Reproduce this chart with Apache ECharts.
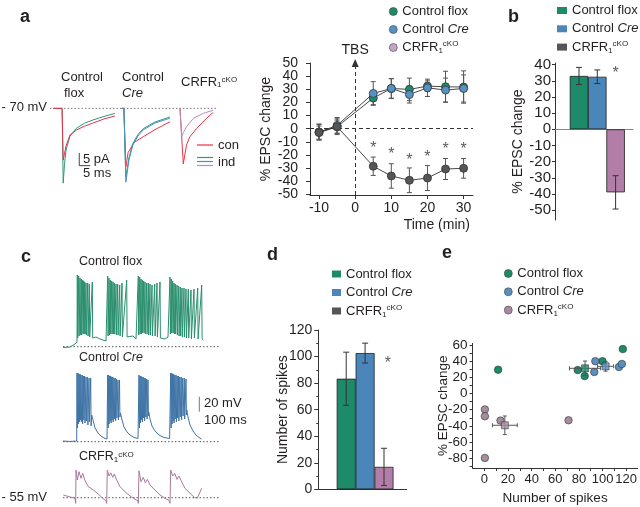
<!DOCTYPE html>
<html><head><meta charset="utf-8">
<script src="https://cdn.jsdelivr.net/npm/echarts@6/dist/echarts.min.js"></script>
<style>html,body{margin:0;padding:0;background:#fff}#chart{width:640px;height:507px}</style>
</head><body><div id="chart"></div>
<script>
// ---------------- DATA ----------------
const groups = ['Control flox', 'Control Cre', 'CRFR1 cKO'];

// Panel a: example EPSC traces [ms, pA]
const aSweepMs = [0, 75.9];
const aFloxCon = [[1.5,0],[5.5,0],[6.0,-20.4],[7.3,-14.8],[9.1,-10.5],[12.1,-8.5],[15.8,-7.0],[19.5,-5.8],[24.5,-4.2],[29.5,-3.0]];
const aFloxInd = [[1.5,0],[5.5,0],[6.0,-29.5],[6.6,-22],[7.3,-16.4],[9.1,-10.9],[12.1,-7.8],[15.8,-5.8],[19.5,-4.6],[24.5,-3.2],[29.5,-2.0]];
const aCreCon = [[32.6,0],[33.6,0],[34.5,-23.0],[35.5,-17.5],[38.2,-13.5],[42.4,-11.2],[47.7,-8.4],[54.5,-5.3]];
const aCreIndG = [[32.6,0],[33.6,0],[34.5,-27],[35.9,-19.5],[37.7,-13.8],[40,-10.3],[42.4,-8.0],[47.7,-5.4],[54.5,-3.4]];
const aCreIndB = [[32.6,0],[33.6,0],[34.5,-29.1],[35.9,-20.4],[37.7,-14.4],[40,-10.9],[42.4,-8.5],[47.7,-5.8],[54.5,-3.9]];
const aCkoCon = [[59.1,0],[59.8,0],[60.6,-21.9],[62.1,-14.4],[63.6,-11.2],[66.7,-7.9],[71.2,-3.9],[74.2,-1.6]];
const aCkoInd = [[59.1,0],[59.5,0],[59.9,-11.2],[60.6,-9.6],[62.1,-7.2],[65.2,-3.9],[69.7,-2.0],[74.2,-0.7]];
const aScaleBar = [[13.3,-17.6],[13.3,-22.6],[18.3,-22.6]];

// Panel a: time course
const timeMin = [-10,-5,5,10,15,20,25,30];
const floxEPSC = [-2.5,1.5,23.3,30.6,29.9,32.4,31.9,31.7];
const floxErr  = [6,6,5,7.5,8.6,4,11.8,12.3];
const creEPSC  = [-2.7,2.5,26.8,30.6,26.0,31.1,29.4,30.6];
const creErr   = [6,6,9,7.5,6.5,6.6,9.1,10.3];
const ckoEPSC  = [-3,1.5,-28.6,-36,-39.3,-37.6,-30.7,-30.2];
const ckoErr   = [5,5,7,9.3,9.4,9.5,8,7.5];
const aStarX = [5,10,15,20,25,30];
const aStarY = [-11.8,-16.7,-21.5,-19,-12.9,-12.9];
const aXTicks = [-10,0,10,20,30];
const aYTicks = [-50,-40,-30,-20,-10,0,10,20,30,40,50];
const aYLabelsOdd = [-50,-30,-10,10,30,50];
const aYLabelsEven = [-40,-20,0,20,40];
const tbsTime = 0;

// Panel b: mean EPSC change
const bMeans = [33, 32.5, -39];
const bErr = [5.3, 4.2, 10.3];
const bStar = [[3, 36.7]];
const bYTicks = [-50,-40,-30,-20,-10,0,10,20,30,40];

// Panel c: firing traces. [ms, mV] points, or [ms, spikePeak, troughAfter] spikes
const cFlox = [[0,-1.1],[35,-0.4],[60,3.6],[70,6.3],
 [71.5,95.6,11.6],[78.5,94.3,14.3],[85,91.6,15.6],[91.5,90.3,15.6],[98.5,88.9,16.9],[103.5,87.6,16.9],[108.5,86.3,16.9],[115,84.9,15.6],[123.5,84.9,14.3],[131.5,83.6,12.9],[146.5,86.3,11.6],
 [155,11.6],[165,12.9],[175,13.6],[185,10.3],[200,8.9],[215,7.6],
 [223.5,94.3,14.3],[230,91.6,15.6],[236.5,88.9,16.9],[243.5,87.6,16.9],[250,86.3,16.9],[256.5,84.9,16.9],[265,83.6,15.6],[273.5,83.6,15.6],[283.5,82.3,14.3],[295,84.9,12.9],
 [305,11.6],[318.5,88.9,12.9],[330,11.6],[350,14.3],[365,10.3],[372,10.3],
 [376.5,94.3,15.6],[383.5,92.9,16.9],[390,90.3,16.9],[396.5,88.9,18.3],[403.5,87.6,18.3],[410,86.3,16.9],[418.5,84.9,16.9],[426.5,84.9,15.6],[435,83.6,15.6],[445,82.3,14.3],[458.5,83.6,14.3],[470,84.9,12.9],[485,86.3,11.6],
 [495,11.6],[510,10.3],[525,12.9],[532,14.3],
 [535,92.9,16.9],[541.5,90.3,18.3],[548.5,87.6,18.3],[555,84.9,16.9],[561.5,83.6,16.9],[570,82.3,15.6],[578.5,80.9,14.3],[586.5,79.6,14.3],[595,78.3,12.9],[605,78.3,12.9],[615,76.9,11.6],[626.5,76.9,11.6],[640,75.6,10.3],[655,76.9,11.6],[673.5,78.3,10.3],[693.5,82.3,10.3],
 [701.5,8.9]];
const cCre = [[0,0.9],[35,0.3],[68.5,0.9],
 [70,91.6,18.3],[75,91.6,23.6],[80,90.3,26.3],[85,90.3,28.9],[90,88.9,26.3],[96,88.9,23.6],[102,87.6,28.9],[108,87.6,24.9],[115,86.3,27.6],[122.5,86.3,22.3],[130,84.9,26.3],[138.5,84.9,21],
 [143.5,35.6],[150,28.9],[160,18.3],[175,11.6],[190,7.6],[205,4.9],[220,3.6],
 [223.5,88.9,18.3],[228.5,88.9,23.6],[233.5,87.6,27.6],[238.5,87.6,24.9],[243.5,86.3,28.9],[249,86.3,26.3],[255,84.9,30.3],[261,84.9,27.6],[267.5,83.6,31.6],[275,82.3,28.9],[282.5,82.3,32.9],
 [287.5,38.3],[295,28.9],[305,19.6],[320,12.9],[335,8.9],[355,5.6],[375,4.3],
 [380,88.9,18.3],[385,87.6,25],[390,87.6,28.9],[395,86.3,26.3],[400.5,86.3,31.6],[406,84.9,27.6],[412,84.9,32.9],[418.5,83.6,30.3],[425,82.3,34.3],
 [429,39.6],[435,30.3],[445,20.9],[460,14.3],[480,8.9],[505,5.6],[533,4.3],
 [538.5,91.6,18.3],[543.5,91.6,23.6],[548.5,90.3,27.6],[553.5,90.3,24.9],[559,88.9,30.3],[565,88.9,26.3],[571,87.6,31.6],[577.5,87.6,27.6],[584,86.3,32.9],[591,86.3,28.9],[598.5,84.9,34.3],[606.5,84.9,30.3],[615,83.6,35.6],
 [619,42.3],[625,32.9],[635,22.3],[650,14.3],[665,8.9],[680,5.6],[693.5,3.6]];
const cCko = [[1.5,3.6],[60,-0.8],[63.5,-7.5],[65,36.9],[71.5,23.6],[80,34.7],[90,25.9],[98.5,32.5],[108.5,23.6],[126.5,14.7],[151.5,10.3],[176.5,4.9],[198.5,-0.8],[215,-4],
 [218.5,-7.5],[221.5,36.9],[230,28.9],[238.5,33.3],[248.5,27.2],[256.5,31.6],[268.5,23.6],[285,14.7],[310,8],[335,2.3],[360,-2.1],[375,-4],
 [376.5,-7.5],[380,36],[390,21.3],[401.5,27.2],[411.5,20],[421.5,24.5],[435,16.9],[460,10.3],[485,3.6],[510,-0.8],[528.5,-3.1],
 [535,-7.5],[538.5,36.9],[548.5,28.9],[558.5,32.5],[570,24.5],[580,28.9],[593.5,21.3],[610,12.5],[635,5.9],[656.5,0.5],[671.5,-0.4],[693.5,12.5]];
const cSweepMs = [0, 785];
const cScaleBar = [[681.5,60],[681.5,40]];

// Panel d: number of spikes
const dMeans = [83.3, 102.6, 16.9];
const dErr = [20, 7.5, 14];
const dStar = [[3.2, 97.4]];

// Panel e: spikes vs EPSC change (individual cells and means)
const eFlox = [[11.6,29.5],[79,29.1],[84.9,21.6],[100,40],[117.2,55]];
const eCre  = [[93,26.6],[93.9,40],[113.9,32.9],[116.4,36.6]];
const eCko  = [[0.4,-19.6],[0.4,-28],[13.6,-33.4],[71.2,-33],[0.4,-79.6]];
const eMeans = [[85.2,31.2],[102.6,33.7],[17.3,-39.2]];
const eErrX = [13.2, 6.8, 10.5];
const eErrY = [9, 6, 11.5];
const eXLabels = [0,20,40,60,80,100,120];
const eXTicks = [0,10,20,30,40,50,60,70,80,90,100,110,120];
const eYLabels = [-80,-60,-40,-20,0,20,40,60];
const eYTicks = [-90,-80,-70,-60,-50,-40,-30,-20,-10,0,10,20,30,40,50,60];

// ---------------- STYLE ----------------
const FONT = '"Liberation Sans", Arial, Helvetica, sans-serif';
const TXT = '#231f20';
const AX = '#333333';
const GREEN = '#1d8a69', BLUE = '#4a86ba', MAUVE = '#b27ea9', DGRAY = '#555555', EMAUVE = '#a68c9f';
const RED = '#e8334a', TGREEN = '#2a9a7a', TBLUE = '#4a8fc8', TPURP = '#b98cc0';
const groupColors = [GREEN, BLUE, MAUVE];

function rich(size) {
  return {
    i: {fontStyle: 'italic', fontSize: size, fontFamily: FONT, color: TXT},
    sub: {fontSize: Math.round(size * 0.6), lineHeight: 8, verticalAlign: 'bottom', fontFamily: FONT, color: TXT},
    sup: {fontSize: Math.round(size * 0.6), lineHeight: 8, verticalAlign: 'top', fontFamily: FONT, color: TXT}
  };
}
function fmtName(n) {
  if (n === 'Control Cre') return 'Control {i|Cre}';
  if (n === 'CRFR1 cKO') return 'CRFR{sub|1}{sup|cKO}';
  return n;
}
function buildTrace(list) {
  const out = [];
  list.forEach(p => {
    if (p.length === 3) { out.push([p[0], p[1]]); out.push([p[0] + 2, p[2]]); }
    else out.push(p);
  });
  return out;
}
function xyPairs(xs, ys) { return xs.map((x, i) => [x, ys[i]]); }
function errPairs(xs, ys, es) { return xs.map((x, i) => [x, ys[i] - es[i], ys[i] + es[i]]); }

function errV(color, cap) {
  return function (params, api) {
    const x = api.value(0), lo = api.value(1), hi = api.value(2);
    const a = api.coord([x, lo]), b = api.coord([x, hi]);
    const st = {stroke: color, lineWidth: 1};
    return {type: 'group', children: [
      {type: 'line', shape: {x1: a[0], y1: a[1], x2: b[0], y2: b[1]}, style: st},
      {type: 'line', shape: {x1: a[0] - cap, y1: a[1], x2: a[0] + cap, y2: a[1]}, style: st},
      {type: 'line', shape: {x1: b[0] - cap, y1: b[1], x2: b[0] + cap, y2: b[1]}, style: st}
    ]};
  };
}
function errH(color, cap) {
  return function (params, api) {
    const lo = api.value(0), hi = api.value(1), y = api.value(2);
    const a = api.coord([lo, y]), b = api.coord([hi, y]);
    const st = {stroke: color, lineWidth: 1};
    return {type: 'group', children: [
      {type: 'line', shape: {x1: a[0], y1: a[1], x2: b[0], y2: b[1]}, style: st},
      {type: 'line', shape: {x1: a[0], y1: a[1] - cap, x2: a[0], y2: a[1] + cap}, style: st},
      {type: 'line', shape: {x1: b[0], y1: b[1] - cap, x2: b[0], y2: b[1] + cap}, style: st}
    ]};
  };
}

const hiddenAxis = (min, max, gi) => ({type: 'value', gridIndex: gi, min, max, show: false, splitLine: {show: false}});
function lab(size, margin, custom) {
  const o = {color: TXT, fontSize: size, lineHeight: 11, fontFamily: FONT, margin, showMinLabel: true, showMaxLabel: true, hideOverlap: false};
  if (custom) o.customValues = custom;
  return o;
}
function visAxis(o) {
  return Object.assign({
    type: 'value', splitLine: {show: false}, nameMoveOverlap: false,
    axisLine: {show: true, onZero: false, lineStyle: {color: AX, width: 1}},
    axisTick: {show: true, length: 4, lineStyle: {color: AX}},
    axisLabel: lab(14, 8),
    nameTextStyle: {color: TXT, fontSize: 14, fontFamily: FONT}
  }, o);
}

// ---------------- GRIDS / AXES ----------------
const grids = [
  {left: 50, top: 100, width: 170, height: 90},          // 0 a traces
  {left: 310, top: 63, width: 163, height: 132},         // 1 a time course
  {left: 555, top: 63, width: 78, height: 157},          // 2 b
  {left: 63, top: 270, width: 157, height: 80},          // 3 c flox
  {left: 63, top: 370, width: 157, height: 75},          // 4 c cre
  {left: 63, top: 460, width: 157, height: 45},          // 5 c cko
  {left: 318.3, top: 330, width: 88.4, height: 159.3},   // 6 d
  {left: 472.6, top: 343.4, width: 165.9, height: 124.6} // 7 e
];

const xAxes = [
  hiddenAxis(0, 77.3, 0),
  visAxis({gridIndex: 1, min: -12.5, max: 32.6,
    axisTick: {show: true, length: 4, lineStyle: {color: AX}, customValues: aXTicks},
    axisLabel: lab(14, 8, aXTicks),
    name: 'Time (min)', nameLocation: 'end', nameGap: -3,
    nameTextStyle: {color: TXT, fontSize: 14, fontFamily: FONT, align: 'right', verticalAlign: 'top', padding: [23, 0, 0, 0]}}),
  visAxis({gridIndex: 2, min: -0.31, max: 3.95, axisLine: {show: true, onZero: true, lineStyle: {color: '#888', width: 1}},
    axisTick: {show: false}, axisLabel: {show: false}}),
  hiddenAxis(0, 785, 3), hiddenAxis(0, 785, 4), hiddenAxis(0, 785, 5),
  visAxis({gridIndex: 6, min: -0.476, max: 4.2, axisTick: {show: false}, axisLabel: {show: false}}),
  visAxis({gridIndex: 7, min: -10, max: 129.7,
    axisTick: {show: true, length: 3, lineStyle: {color: AX}, customValues: eXTicks},
    axisLabel: lab(13, 6, eXLabels),
    name: 'Number of spikes', nameLocation: 'middle', nameGap: 23,
    nameTextStyle: {color: TXT, fontSize: 13.5, fontFamily: FONT}})
];

const yAxes = [
  hiddenAxis(-32.2, 3.3, 0),
  visAxis({gridIndex: 1, min: -50.5, max: 50,
    axisTick: {show: true, length: 4, lineStyle: {color: AX}, customValues: aYTicks},
    axisLabel: lab(14, 12, aYLabelsOdd),
    name: '% EPSC change', nameLocation: 'middle', nameRotate: 90, nameGap: 37}),
  visAxis({gridIndex: 2, min: -56.1, max: 41,
    axisTick: {show: true, length: 3, lineStyle: {color: AX}, customValues: bYTicks},
    axisLabel: lab(15, 4, bYTicks),
    name: '% EPSC change', nameLocation: 'middle', nameRotate: 90, nameGap: 30}),
  hiddenAxis(-4.4, 102.3, 3), hiddenAxis(-4.4, 95.6, 4), hiddenAxis(-9.7, 50.3, 5),
  visAxis({gridIndex: 6, min: 0, max: 120, interval: 20,
    axisTick: {show: true, length: 4, lineStyle: {color: AX}},
    minorTick: {show: true, splitNumber: 2, length: 2, lineStyle: {color: AX}},
    axisLabel: lab(14, 6),
    name: 'Number of spikes', nameLocation: 'middle', nameRotate: 90, nameGap: 28}),
  visAxis({gridIndex: 7, min: -92, max: 62,
    axisTick: {show: true, length: 3, lineStyle: {color: AX}, customValues: eYTicks},
    axisLabel: lab(13.5, 5, eYLabels),
    name: '% EPSC change', nameLocation: 'middle', nameRotate: 90, nameGap: 22,
    nameTextStyle: {color: TXT, fontSize: 13.5, fontFamily: FONT}}),
  // second label layer for panel a (interleaved labels, same scale and position)
  visAxis({gridIndex: 1, min: -50.5, max: 50, position: 'left', offset: 0,
    axisLine: {show: false}, axisTick: {show: false},
    axisLabel: lab(14, 12, aYLabelsEven)})
];

// ---------------- SERIES ----------------
const series = [];
const traceLine = (gi, data, color, w, extra) => Object.assign({
  type: 'line', xAxisIndex: gi, yAxisIndex: gi, data, showSymbol: false, symbol: 'none',
  lineStyle: {color, width: w || 1}, silent: true, animation: false, z: 3
}, extra || {});

// a traces
series.push(traceLine(0, aSweepMs.map(t => [t, 0]), '#777', 1, {lineStyle: {color: '#777', width: 1, type: [1.5, 2]}, z: 1}));
series.push(traceLine(0, aFloxInd, TGREEN));
series.push(traceLine(0, aFloxCon, RED));
series.push(traceLine(0, aCreCon, RED));
series.push(traceLine(0, aCreIndG, TGREEN));
series.push(traceLine(0, aCreIndB, TBLUE));
series.push(traceLine(0, aCkoCon, RED));
series.push(traceLine(0, aCkoInd, TPURP));
series.push(traceLine(0, aScaleBar, '#444'));

// a time course
const aVals = [floxEPSC, creEPSC, ckoEPSC];
const aErrs = [floxErr, creErr, ckoErr];
const aFill = [GREEN, '#5792c6', DGRAY];
[2, 0, 1].forEach(k => {
  series.push({type: 'custom', xAxisIndex: 1, yAxisIndex: 1, renderItem: errV('#555', 2.5),
    data: errPairs(timeMin, aVals[k], aErrs[k]), encode: {x: 0, y: [1, 2]}, z: 2, silent: true, animation: false});
});
[2, 0, 1].forEach(k => {
  const s = {
    type: 'line', name: groups[k], xAxisIndex: 1, yAxisIndex: 1, data: xyPairs(timeMin, aVals[k]),
    symbol: 'circle', symbolSize: 8, showSymbol: true,
    itemStyle: {color: aFill[k], borderColor: '#333', borderWidth: 0.8},
    lineStyle: {color: '#333', width: 0.9}, z: 4 + k, animation: false, silent: true
  };
  if (k === 2) {
    s.markLine = {silent: true, animation: false, symbol: ['none', 'none'],
      lineStyle: {color: '#333', width: 1, type: [4, 3]}, label: {show: false},
      data: [{yAxis: 0}]};
  }
  if (k === 0) {
    s.markLine = {silent: true, animation: false, symbol: ['none', 'triangle'], symbolSize: [7, 8],
      lineStyle: {color: '#333', width: 1, type: [4, 3]},
      label: {show: true, position: 'end', formatter: 'TBS', color: TXT, fontSize: 14, fontFamily: FONT, distance: 6},
      data: [{xAxis: tbsTime}]};
  }
  series.push(s);
});
series.push({type: 'scatter', xAxisIndex: 1, yAxisIndex: 1, data: xyPairs(aStarX, aStarY), symbolSize: 1,
  itemStyle: {color: 'rgba(0,0,0,0)'}, silent: true, animation: false,
  label: {show: true, position: 'inside', formatter: '*', color: '#333', fontSize: 16, fontFamily: FONT, offset: [0, 4]}});

// b bars
series.push({type: 'bar', xAxisIndex: 2, yAxisIndex: 2, barWidth: 18.5, silent: true, animation: false,
  data: bMeans.map((v, i) => ({value: [i + 1, v], itemStyle: {color: groupColors[i], borderColor: '#222', borderWidth: 0.8}}))});
series.push({type: 'custom', xAxisIndex: 2, yAxisIndex: 2, renderItem: errV('#333', 3),
  data: errPairs([1, 2, 3], bMeans, bErr), encode: {x: 0, y: [1, 2]}, z: 5, silent: true, animation: false});
series.push({type: 'scatter', xAxisIndex: 2, yAxisIndex: 2, data: bStar, symbolSize: 1, itemStyle: {color: 'rgba(0,0,0,0)'},
  silent: true, animation: false,
  label: {show: true, position: 'inside', formatter: '*', color: '#333', fontSize: 16, fontFamily: FONT, offset: [0, 4]}});

// c traces
[3, 4, 5].forEach(gi => series.push(traceLine(gi, cSweepMs.map(t => [t, 0]), '#555', 1, {lineStyle: {color: '#555', width: 1, type: [1.5, 2]}, z: 1})));
series.push(traceLine(3, buildTrace(cFlox), '#2a8f6e', 1));
series.push(traceLine(4, buildTrace(cCre), '#3f74a6', 1));
series.push(traceLine(5, buildTrace(cCko), '#a8789f', 1));
series.push(traceLine(4, cScaleBar, '#777', 1));

// d bars
series.push({type: 'bar', xAxisIndex: 6, yAxisIndex: 6, barWidth: 19, silent: true, animation: false,
  data: dMeans.map((v, i) => ({value: [i + 1, v], itemStyle: {color: groupColors[i], borderColor: '#222', borderWidth: 0.8}}))});
series.push({type: 'custom', xAxisIndex: 6, yAxisIndex: 6, renderItem: errV('#333', 3),
  data: errPairs([1, 2, 3], dMeans, dErr), encode: {x: 0, y: [1, 2]}, z: 5, silent: true, animation: false});
series.push({type: 'scatter', xAxisIndex: 6, yAxisIndex: 6, data: dStar, symbolSize: 1, itemStyle: {color: 'rgba(0,0,0,0)'},
  silent: true, animation: false,
  label: {show: true, position: 'inside', formatter: '*', color: '#333', fontSize: 16, fontFamily: FONT, offset: [0, 4]}});

// e scatter
const eColors = [GREEN, '#5b8fc0', EMAUVE];
[eFlox, eCre, eCko].forEach((pts, k) => {
  series.push({type: 'scatter', name: groups[k], xAxisIndex: 7, yAxisIndex: 7, data: pts, symbol: 'circle', symbolSize: 7.5,
    itemStyle: {color: eColors[k], borderColor: '#333', borderWidth: 0.6, opacity: 1}, z: 3, silent: true, animation: false});
});
series.push({type: 'custom', xAxisIndex: 7, yAxisIndex: 7, renderItem: errV('#555', 2),
  data: eMeans.map((p, i) => [p[0], p[1] - eErrY[i], p[1] + eErrY[i]]), encode: {x: 0, y: [1, 2]}, z: 4, silent: true, animation: false});
series.push({type: 'custom', xAxisIndex: 7, yAxisIndex: 7, renderItem: errH('#555', 2),
  data: eMeans.map((p, i) => [p[0] - eErrX[i], p[0] + eErrX[i], p[1]]), encode: {x: [0, 1], y: 2}, z: 4, silent: true, animation: false});
series.push({type: 'scatter', xAxisIndex: 7, yAxisIndex: 7, symbol: 'rect', symbolSize: 7, z: 5, silent: true, animation: false,
  data: eMeans.map((p, i) => ({value: p, itemStyle: {color: eColors[i], borderColor: '#333', borderWidth: 0.7}}))});

// ---------------- LEGENDS ----------------
function legend(left, top, icon, w, h, gap, colors, border) {
  return {
    left, top, orient: 'vertical', icon, itemWidth: w, itemHeight: h, itemGap: gap, selectedMode: false,
    formatter: fmtName,
    textStyle: {color: TXT, fontSize: 13, fontFamily: FONT, lineHeight: 15, rich: rich(13)},
    data: groups.map((g, i) => ({name: g, itemStyle: {color: colors[i], borderColor: border, borderWidth: border ? 0.6 : 0, opacity: 1}}))
  };
}
const legends = [
  legend(384, -1, 'circle', 8, 8, 3, [GREEN, '#5792c6', '#c9a3c3'], '#444'),
  legend(552, -2, 'rect', 10, 7, 3.3, [GREEN, BLUE, DGRAY], null),
  legend(327, 261.5, 'rect', 9, 7, 3.5, [GREEN, BLUE, DGRAY], null),
  legend(499, 261, 'circle', 8, 8, 3.3, [GREEN, '#5b8fc0', EMAUVE], '#444')
];

// ---------------- TEXT ANNOTATIONS ----------------
function txt(x, y, text, size, opts) {
  return Object.assign({type: 'text', x, y, silent: true,
    style: Object.assign({text, fill: TXT, fontSize: size, fontFamily: FONT, align: 'left', verticalAlign: 'middle', rich: rich(size)}, (opts && opts.style) || {})
  }, (opts && opts.el) || {});
}
const bold = {style: {fontWeight: 'bold'}};
const graphics = [
  txt(20, 17, 'a', 18, bold), txt(508, 17, 'b', 18, bold), txt(21, 257, 'c', 18, bold),
  txt(267, 255, 'd', 18, bold), txt(442, 253, 'e', 18, bold),
  txt(61, 77, 'Control', 13), txt(64, 93, 'flox', 13),
  txt(122, 77, 'Control', 13), txt(122, 93, '{i|Cre}', 13),
  txt(181, 82, 'CRFR{sub|1}{sup|cKO}', 13),
  txt(47, 107, '- 70 mV', 13, {style: {align: 'right'}}),
  txt(218, 145, 'con', 13), txt(218, 162, 'ind', 13),
  txt(83, 159, '5 pA', 13), txt(83, 173, '5 ms', 13),
  {type: 'line', silent: true, shape: {x1: 197, y1: 145, x2: 213, y2: 145}, style: {stroke: RED, lineWidth: 1.2}},
  {type: 'line', silent: true, shape: {x1: 197, y1: 157.5, x2: 213, y2: 157.5}, style: {stroke: TGREEN, lineWidth: 1.2}},
  {type: 'line', silent: true, shape: {x1: 197, y1: 161.5, x2: 213, y2: 161.5}, style: {stroke: TBLUE, lineWidth: 1.2}},
  {type: 'line', silent: true, shape: {x1: 197, y1: 165.5, x2: 213, y2: 165.5}, style: {stroke: TPURP, lineWidth: 1.2}},
  txt(79, 262, 'Control flox', 12.5), txt(79, 358, 'Control {i|Cre}', 12.5), txt(79, 457, 'CRFR{sub|1}{sup|cKO}', 12.5),
  txt(204, 403, '20 mV', 13), txt(204, 420, '100 ms', 13),
  txt(47, 497, '- 55 mV', 13, {style: {align: 'right'}})
];

const chart = echarts.init(document.getElementById('chart'), null, {renderer: 'canvas'});
chart.setOption({
  animation: false,
  backgroundColor: '#fff',
  textStyle: {fontFamily: FONT},
  grid: grids,
  xAxis: xAxes,
  yAxis: yAxes,
  legend: legends,
  series,
  graphic: graphics
});
</script></body></html>
